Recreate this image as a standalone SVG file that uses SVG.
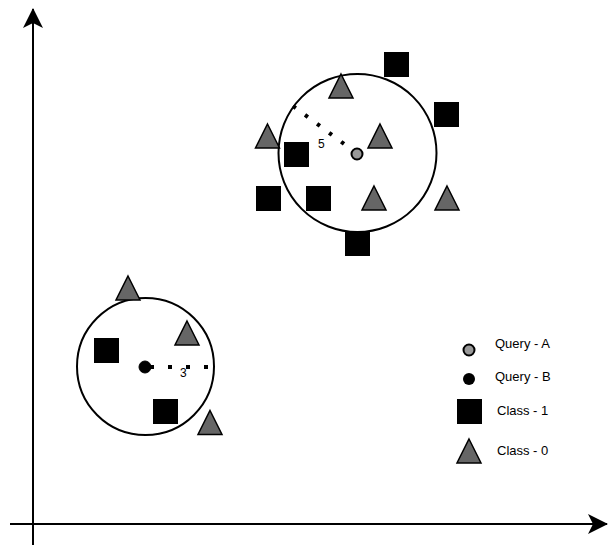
<svg xmlns="http://www.w3.org/2000/svg" width="608" height="545" viewBox="0 0 608 545">
<style>
.sq{fill:#000;stroke:#000;stroke-width:1}
.tri{fill:#666;stroke:#000;stroke-width:1.5;stroke-linejoin:miter}
.ring{fill:none;stroke:#000;stroke-width:2}
.axis{fill:none;stroke:#000;stroke-width:2}
.dots{fill:none;stroke:#000;stroke-width:4}
.t{font-family:"Liberation Sans",Arial,sans-serif;font-size:13px;fill:#000}
.n{font-family:"Liberation Sans",Arial,sans-serif;font-size:12px;fill:#000}
</style>
<defs>
<marker id="arr" viewBox="0 0 20 20" refX="19" refY="10" markerWidth="20" markerHeight="20" markerUnits="userSpaceOnUse" orient="auto">
<path d="M0,0 L20,10 L0,20 L5,10 z" fill="#000"/>
</marker>
<path id="triS" d="M0,-12 L12,12 L-12,12 z"/>
</defs>
<g id="connectors">
<line class="axis" x1="33" y1="545" x2="33" y2="9" marker-end="url(#arr)"/>
<line class="axis" x1="10" y1="524" x2="607" y2="524" marker-end="url(#arr)"/>
<line class="dots" x1="293" y1="106" x2="355" y2="152" stroke-dasharray="3.5 11.5"/>
<line class="dots" x1="150" y1="367" x2="209" y2="367" stroke-dasharray="4 14"/>
</g>
<g id="circleA"><circle class="ring" cx="357.5" cy="153" r="79"/></g>
<g id="circleB"><circle class="ring" cx="145.5" cy="366.5" r="68.5"/></g>
<g id="label5"><text class="n" x="318" y="148">5</text></g>
<g id="label3"><text class="n" x="180" y="377">3</text></g>
<g id="squaresA">
<rect class="sq" x="384.5" y="52.5" width="24" height="24"/>
<rect class="sq" x="434.5" y="102.5" width="24" height="24"/>
<rect class="sq" x="284.5" y="142.5" width="24" height="24"/>
<rect class="sq" x="256.5" y="186.5" width="24" height="24"/>
<rect class="sq" x="306.5" y="186.5" width="24" height="24"/>
<rect class="sq" x="345.5" y="231.5" width="24" height="24"/>
</g>
<g id="trianglesA">
<use href="#triS" class="tri" x="341" y="86"/>
<use href="#triS" class="tri" x="267.5" y="136"/>
<use href="#triS" class="tri" x="380" y="136"/>
<use href="#triS" class="tri" x="374" y="198"/>
<use href="#triS" class="tri" x="447" y="198"/>
</g>
<g id="queryA"><circle cx="357" cy="154" r="5.5" fill="#999" stroke="#000" stroke-width="2"/></g>
<g id="squaresB">
<rect class="sq" x="94.5" y="338.5" width="24" height="24"/>
<rect class="sq" x="153.5" y="399.5" width="24" height="24"/>
</g>
<g id="trianglesB">
<use href="#triS" class="tri" x="128" y="288"/>
<use href="#triS" class="tri" x="187" y="333"/>
<use href="#triS" class="tri" x="210" y="422.5"/>
</g>
<g id="queryB"><circle cx="145" cy="367" r="6" fill="#000" stroke="#000" stroke-width="1"/></g>
<g id="legend">
<circle cx="469" cy="350" r="5.5" fill="#999" stroke="#000" stroke-width="2"/>
<text class="t" x="495" y="348">Query - A</text>
<circle cx="469" cy="379" r="6" fill="#000"/>
<text class="t" x="495" y="381">Query - B</text>
<rect class="sq" x="457.5" y="399.5" width="24" height="24"/>
<text class="t" x="497" y="415">Class - 1</text>
<use href="#triS" class="tri" x="469" y="451"/>
<text class="t" x="497" y="455">Class - 0</text>
</g>
</svg>
